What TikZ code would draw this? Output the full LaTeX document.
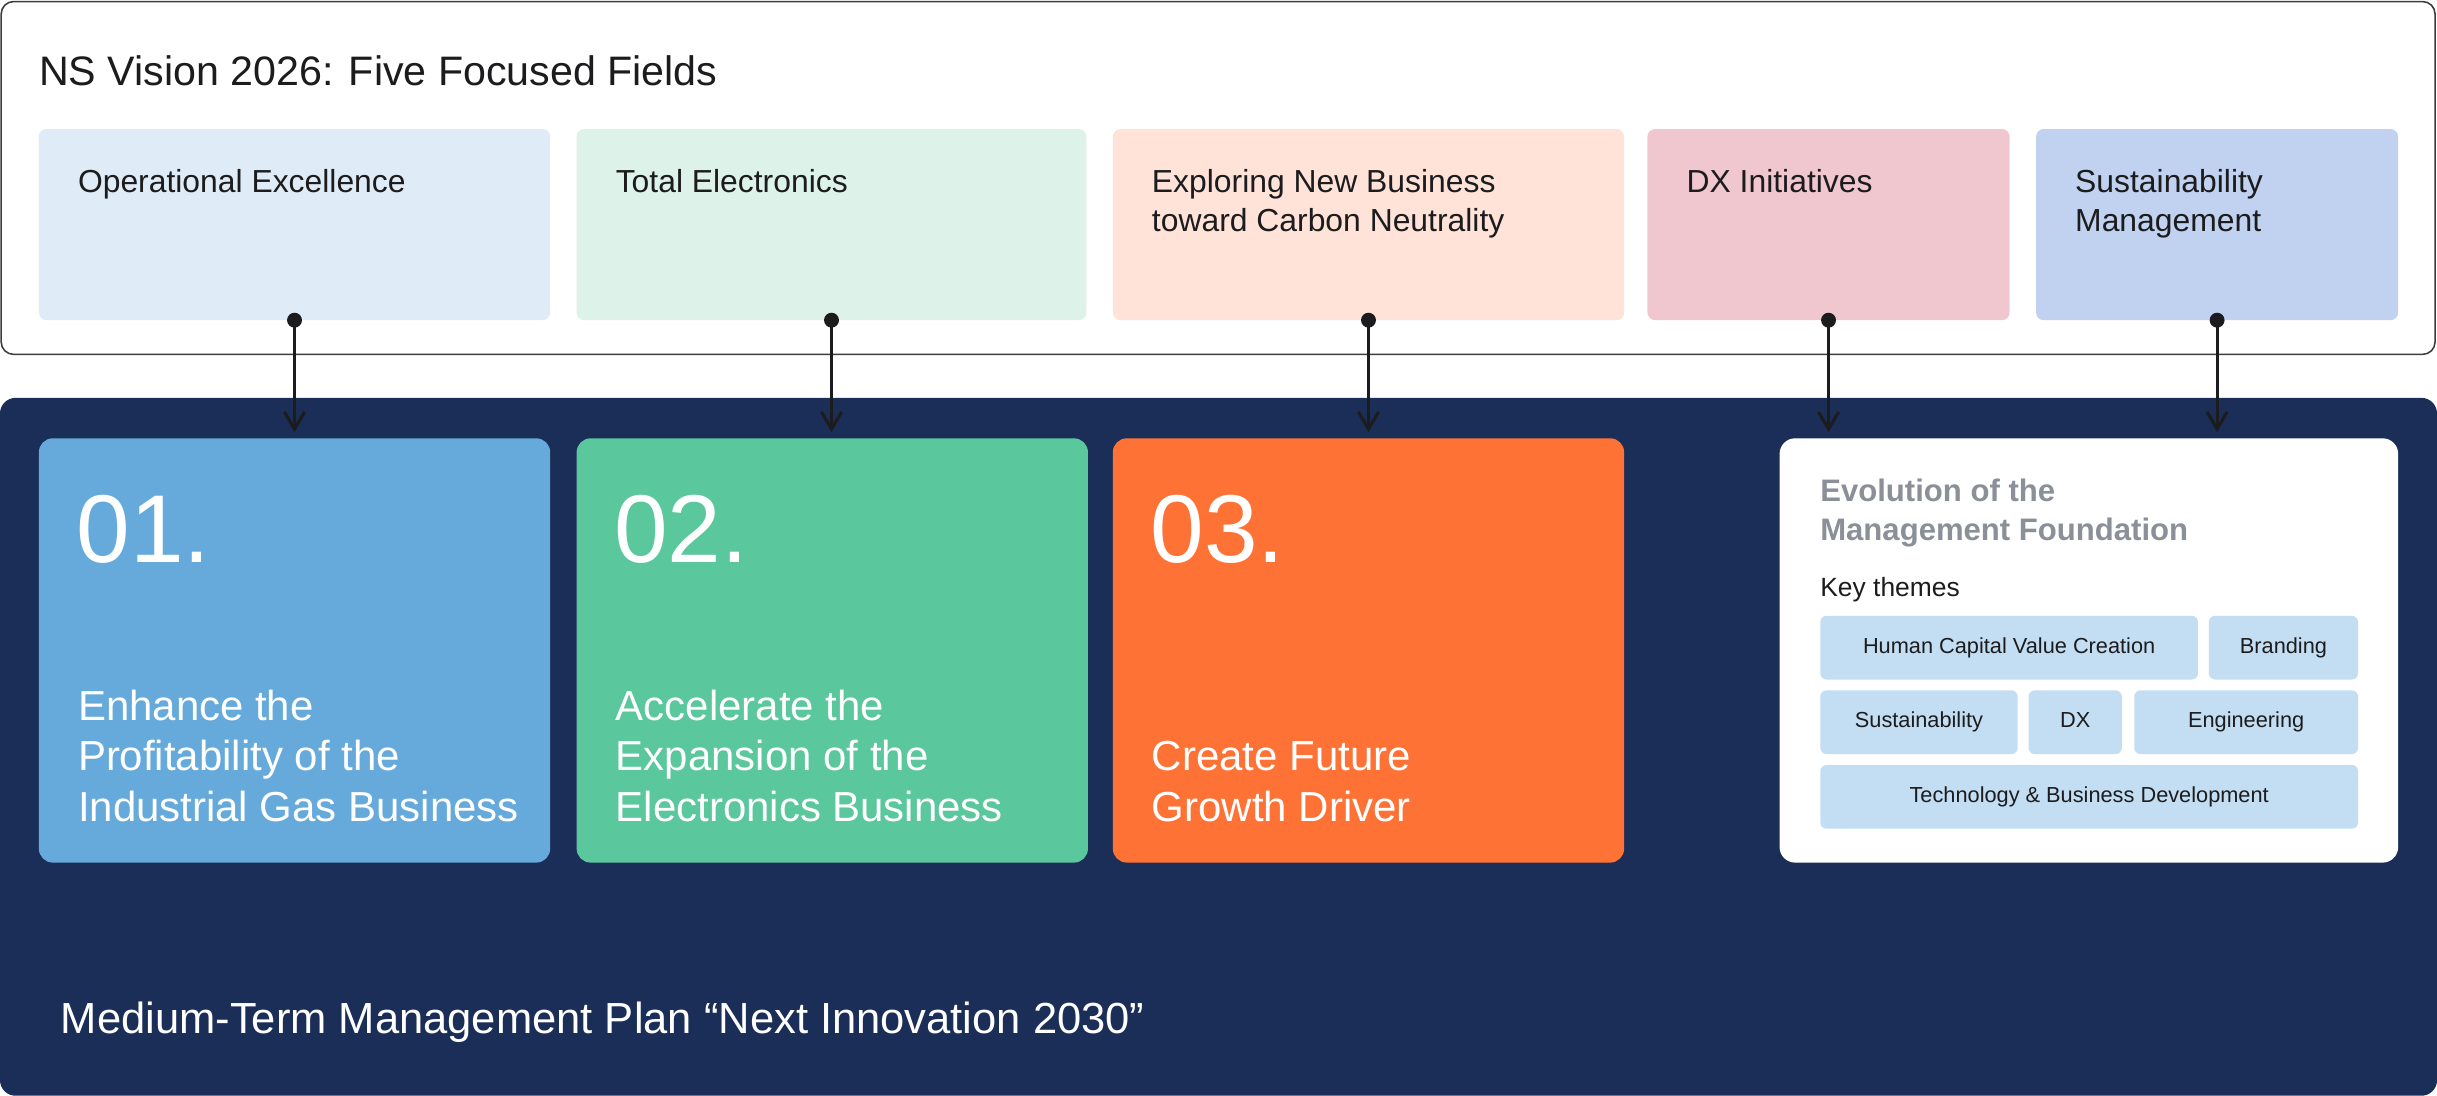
\documentclass[tikz,border=0pt]{standalone}
\usepackage{fontspec}
\setmainfont{Liberation Sans}
\usetikzlibrary{arrows.meta,calc}

\definecolor{navy}{HTML}{1A2E58}
\definecolor{ink}{HTML}{1C1C1E}
\definecolor{framegrey}{HTML}{3C3C3C}
\definecolor{fopex}{HTML}{DFECF7}
\definecolor{ftotal}{HTML}{DDF2E8}
\definecolor{fnew}{HTML}{FFE3D8}
\definecolor{fdx}{HTML}{F0C7CE}
\definecolor{fsus}{HTML}{C0D2EF}
\definecolor{gblue}{HTML}{66AADB}
\definecolor{ggreen}{HTML}{5AC79C}
\definecolor{gorange}{HTML}{FF7236}
\definecolor{chipblue}{HTML}{C3DEF2}
\definecolor{cardgrey}{HTML}{8A8F98}

\begin{document}
\begin{tikzpicture}[x=1pt,y=-1pt,
  field/.style={rectangle, rounded corners=5pt, inner sep=0pt, outer sep=0pt,
    anchor=north west, minimum height=123pt},
  goal/.style={rectangle, rounded corners=9pt, inner sep=0pt, outer sep=0pt,
    anchor=north west, minimum height=273pt, minimum width=329pt},
  chip/.style={rectangle, rounded corners=4pt, fill=chipblue, inner sep=0pt,
    anchor=north west, minimum height=41pt, text height=10pt, text depth=3pt,
    font=\fontsize{14}{16}\selectfont, text=ink},
  fieldtext/.style={anchor=north west, inner sep=0pt, align=left,
    font=\fontsize{20.5}{25}\selectfont, text=ink},
  goaltext/.style={anchor=south west, inner sep=0pt, align=left,
    font=\fontsize{27}{32.5}\selectfont, text=white},
  goalnum/.style={anchor=base west, inner sep=0pt,
    font=\fontsize{62}{62}\selectfont, text=white},
  conn/.style={draw=ink, line width=2pt,
    -{Straight Barb[length=11pt,width=13pt,line width=2pt]}, shorten >=4pt},
  dot/.style={fill=ink},
]
\useasboundingbox (0,0) rectangle (1568,705);

% NS Vision 2026 frame
\node[draw=framegrey, line width=1pt, rounded corners=8pt, fill=white,
  minimum width=1566pt, minimum height=227pt, anchor=north west,
  inner sep=0pt, outer sep=0pt] (vision) at (0.75,1) {};
\node[anchor=base west, inner sep=0pt, font=\fontsize{26.5}{30}\selectfont, text=ink]
  (visiontitle) at (25,55) {NS Vision 2026: Five Focused Fields};

% five focused fields
\node[field, fill=fopex,  minimum width=329pt] (f1) at (25,83) {};
\node[field, fill=ftotal, minimum width=328pt] (f2) at (371,83) {};
\node[field, fill=fnew,   minimum width=329pt] (f3) at (716,83) {};
\node[field, fill=fdx,    minimum width=233pt] (f4) at (1060,83) {};
\node[field, fill=fsus,   minimum width=233pt] (f5) at (1310,83) {};

\node[fieldtext] (f1t) at ($(f1.north west)+(25,26)$) {Operational Excellence};
\node[fieldtext] (f2t) at ($(f2.north west)+(25,26)$) {Total Electronics};
\node[fieldtext] (f3t) at ($(f3.north west)+(25,26)$) {Exploring New Business\\toward Carbon Neutrality};
\node[fieldtext] (f4t) at ($(f4.north west)+(25,26)$) {DX Initiatives};
\node[fieldtext] (f5t) at ($(f5.north west)+(25,26)$) {Sustainability\\Management};

% medium-term plan panel
\node[fill=navy, rounded corners=10pt, minimum width=1568pt, minimum height=449pt,
  anchor=north west, inner sep=0pt, outer sep=0pt] (plan) at (0,256) {};
\node[anchor=base west, inner sep=0pt, font=\fontsize{28}{32}\selectfont, text=white]
  (plantitle) at (39,665) {Medium-Term Management Plan “Next Innovation 2030”};

% three strategic goals
\node[goal, fill=gblue]   (g1) at (25,282) {};
\node[goal, fill=ggreen]  (g2) at (371,282) {};
\node[goal, fill=gorange] (g3) at (716,282) {};

\node[goalnum] (g1n) at ($(g1.north west)+(24,80)$) {01.};
\node[goalnum] (g2n) at ($(g2.north west)+(24,80)$) {02.};
\node[goalnum] (g3n) at ($(g3.north west)+(24,80)$) {03.};

\node[goaltext] (g1t) at ($(g1.south west)+(25,-26)$) {Enhance the\\Profitability of the\\Industrial Gas Business};
\node[goaltext] (g2t) at ($(g2.south west)+(25,-26)$) {Accelerate the\\Expansion of the\\Electronics Business};
\node[goaltext] (g3t) at ($(g3.south west)+(25,-26)$) {Create Future\\Growth Driver};

% management foundation card
\node[fill=white, rounded corners=10pt, minimum width=398pt, minimum height=273pt,
  anchor=north west, inner sep=0pt, outer sep=0pt] (card) at (1145,282) {};
\node[anchor=north west, inner sep=0pt, align=left, text=cardgrey,
  font=\bfseries\fontsize{20}{25}\selectfont] (cardtitle) at (1171,308)
  {Evolution of the\\Management Foundation};
\node[anchor=north west, inner sep=0pt, text=ink, font=\fontsize{17}{20}\selectfont]
  (keythemes) at (1171,371) {Key themes};

\node[chip, minimum width=243pt] (c1) at (1171,396) {Human Capital Value Creation};
\node[chip, minimum width=96pt]  (c2) at (1421,396) {Branding};
\node[chip, minimum width=127pt] (c3) at (1171,444) {Sustainability};
\node[chip, minimum width=60pt]  (c4) at (1305,444) {DX};
\node[chip, minimum width=144pt] (c5) at (1373,444) {Engineering};
\node[chip, minimum width=346pt] (c6) at (1171,492) {Technology \& Business Development};

% connectors from fields to goals
\foreach \f/\g in {f1/g1, f2/g2, f3/g3, f4/card, f5/card}{
  \draw[conn] (\f.south) -- (\f.south |- \g.north);
  \fill[dot] (\f.south) circle (4.8pt);
}
\end{tikzpicture}
\end{document}
